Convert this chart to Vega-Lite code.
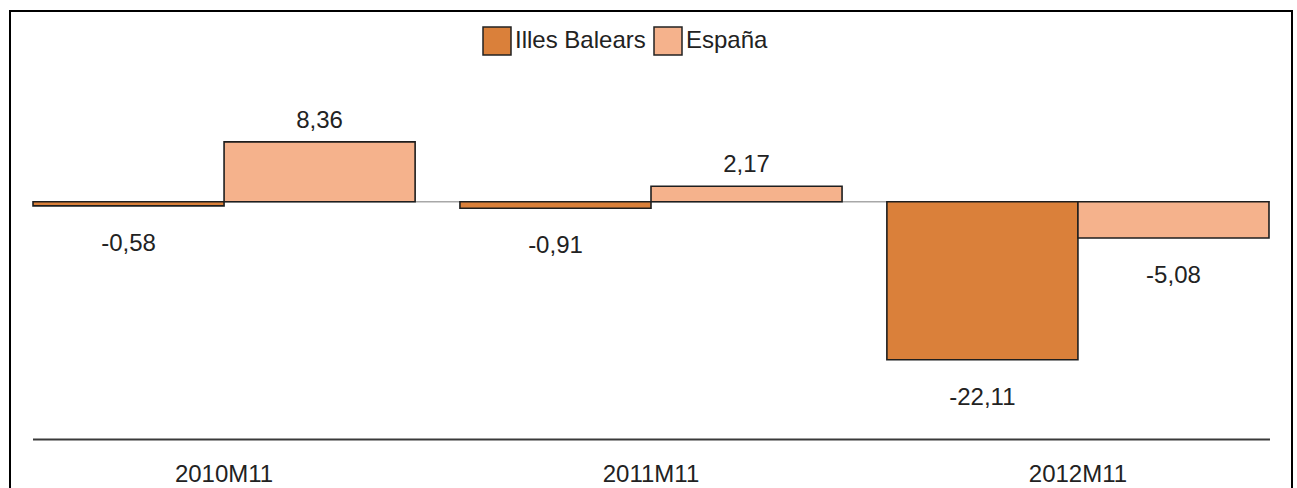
{
  "$schema": "https://vega.github.io/schema/vega-lite/v6.json",
  "width": 1282,
  "height": 490,
  "autosize": {"type": "none"},
  "padding": {"left": 10, "top": 11, "right": 5, "bottom": 0},
  "background": "#ffffff",
  "config": {
    "view": {"stroke": "#000000", "strokeWidth": 2},
    "font": "Liberation Sans"
  },
  "data": {
    "values": [
      {"periodo": "2010M11", "serie": "Illes Balears", "valor": -0.58, "etiqueta": "-0,58"},
      {"periodo": "2010M11", "serie": "España", "valor": 8.36, "etiqueta": "8,36"},
      {"periodo": "2011M11", "serie": "Illes Balears", "valor": -0.91, "etiqueta": "-0,91"},
      {"periodo": "2011M11", "serie": "España", "valor": 2.17, "etiqueta": "2,17"},
      {"periodo": "2012M11", "serie": "Illes Balears", "valor": -22.11, "etiqueta": "-22,11"},
      {"periodo": "2012M11", "serie": "España", "valor": -5.08, "etiqueta": "-5,08"}
    ]
  },
  "layer": [
    {
      "data": {"values": [{"linea": "cero", "nivel": 0}, {"linea": "eje", "nivel": -33.26}]},
      "encoding": {
        "x": {"datum": 0, "type": "quantitative", "scale": {"domain": [-0.0186, 1.0178], "nice": false, "zero": false}, "axis": null},
        "x2": {"datum": 1},
        "y": {"field": "nivel", "type": "quantitative"}
      },
      "layer": [
        {
          "transform": [{"filter": "datum.linea == 'cero'"}],
          "mark": {"type": "rule", "color": "#a8a8a8", "strokeWidth": 1.5}
        },
        {
          "transform": [{"filter": "datum.linea == 'eje'"}],
          "mark": {"type": "rule", "color": "#3a3a3a", "strokeWidth": 2}
        }
      ]
    },
    {
      "layer": [
        {
          "mark": {"type": "bar", "stroke": "#1e1e1e", "strokeWidth": 1.6},
          "encoding": {
            "x": {
              "field": "periodo",
              "type": "nominal",
              "scale": {"paddingInner": 0.105, "paddingOuter": 0.0539},
              "axis": {
                "title": null,
                "orient": "bottom",
                "offset": -61.5,
                "ticks": false,
                "domain": false,
                "labelAngle": 0,
                "labelFontSize": 24,
                "labelColor": "#222222",
                "labelPadding": 23,
                "grid": false
              }
            },
            "xOffset": {
              "field": "serie",
              "type": "nominal",
              "scale": {"domain": ["Illes Balears", "España"], "paddingInner": 0, "paddingOuter": 0}
            },
            "y": {
              "field": "valor",
              "type": "quantitative",
              "scale": {"domain": [-41.86, 26.67], "nice": false, "zero": false},
              "axis": null
            },
            "color": {
              "field": "serie",
              "type": "nominal",
              "scale": {"domain": ["Illes Balears", "España"], "range": ["#da803a", "#f5b28c"]},
              "legend": {
                "title": null,
                "orient": "none",
                "legendX": 472,
                "legendY": 15,
                "direction": "horizontal",
                "symbolType": "square",
                "symbolSize": 784,
                "symbolStrokeColor": "#222222",
                "symbolStrokeWidth": 1.5,
                "labelFontSize": 24,
                "labelColor": "#222222",
                "labelOffset": 3,
                "columnPadding": 5
              }
            }
          }
        },
        {
          "transform": [{"filter": "datum.valor >= 0"}],
          "mark": {"type": "text", "fontSize": 24, "color": "#222222", "baseline": "alphabetic", "dy": -14},
          "encoding": {
            "x": {"field": "periodo", "type": "nominal"},
            "xOffset": {"field": "serie", "type": "nominal"},
            "y": {"field": "valor", "type": "quantitative"},
            "text": {"field": "etiqueta", "type": "nominal"}
          }
        },
        {
          "transform": [{"filter": "datum.valor < 0"}],
          "mark": {"type": "text", "fontSize": 24, "color": "#222222", "baseline": "top", "dy": 26},
          "encoding": {
            "x": {"field": "periodo", "type": "nominal"},
            "xOffset": {"field": "serie", "type": "nominal"},
            "y": {"field": "valor", "type": "quantitative"},
            "text": {"field": "etiqueta", "type": "nominal"}
          }
        }
      ]
    }
  ],
  "resolve": {"scale": {"x": "independent"}, "axis": {"x": "independent"}}
}
